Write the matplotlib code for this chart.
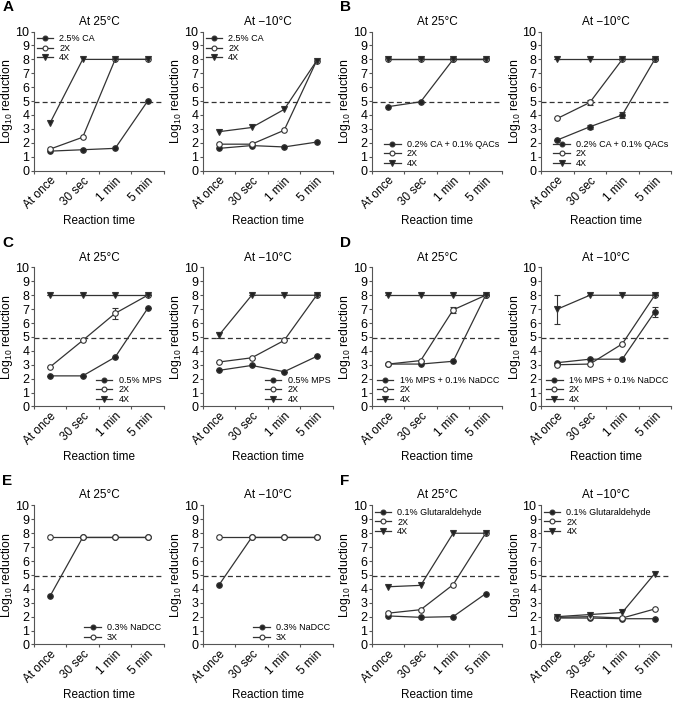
import numpy as np
import matplotlib
matplotlib.use("Agg")
import matplotlib.pyplot as plt
from matplotlib.lines import Line2D

plt.rcParams['font.family'] = ['Liberation Sans', 'DejaVu Sans']
plt.rcParams['mathtext.default'] = 'regular'

times = ['At once', '30 sec', '1 min', '5 min']
temps = ['At 25°C', 'At −10°C']
dashed_level = 4.95

# panel A: 2.5% CA
a_names = ['2.5% CA', '2X', '4X']
a_25 = [[1.4, 1.5, 1.6, 5.0], [1.55, 2.4, 8.0, 8.0], [3.45, 8.0, 8.0, 8.0]]
a_m10 = [[1.6, 1.8, 1.7, 2.05], [1.9, 1.9, 2.9, 7.9], [2.8, 3.1, 4.4, 7.9]]
# panel B: 0.2% CA + 0.1% QACs
b_names = ['0.2% CA + 0.1% QACs', '2X', '4X']
b_25 = [[4.6, 4.95, 8.0, 8.0], [8.0, 8.0, 8.0, 8.0], [8.0, 8.0, 8.0, 8.0]]
b_m10 = [[2.2, 3.15, 4.0, 8.0], [3.75, 4.9, 8.0, 8.0], [8.0, 8.0, 8.0, 8.0]]
b_m10_err = [[0, 0.15, 0.2, 0], [0, 0.2, 0, 0], [0, 0, 0, 0]]
# panel C: 0.5% MPS
c_names = ['0.5% MPS', '2X', '4X']
c_25 = [[2.2, 2.2, 3.55, 7.05], [2.85, 4.75, 6.7, 8.0], [8.0, 8.0, 8.0, 8.0]]
c_25_err = [[0, 0, 0, 0], [0, 0, 0.4, 0], [0, 0, 0, 0]]
c_m10 = [[2.6, 2.95, 2.5, 3.6], [3.2, 3.5, 4.75, 8.0], [5.15, 8.0, 8.0, 8.0]]
c_m10_err = [[0, 0, 0, 0], [0, 0, 0, 0], [0.2, 0, 0, 0]]
# panel D: 1% MPS + 0.1% NaDCC
d_names = ['1% MPS + 0.1% NaDCC', '2X', '4X']
d_25 = [[3.05, 3.05, 3.25, 8.0], [3.05, 3.3, 6.95, 8.0], [8.0, 8.0, 8.0, 8.0]]
d_25_err = [[0, 0, 0, 0], [0, 0, 0.2, 0], [0, 0, 0, 0]]
d_m10 = [[3.15, 3.4, 3.4, 6.8], [3.0, 3.05, 4.5, 8.0], [7.0, 8.0, 8.0, 8.0]]
d_m10_err = [[0, 0, 0, 0.35], [0, 0, 0, 0], [1.05, 0, 0, 0]]
# panel E: 0.3% NaDCC
e_names = ['0.3% NaDCC', '3X']
e_25 = [[3.5, 7.7, 7.7, 7.7], [7.7, 7.7, 7.7, 7.7]]
e_m10 = [[4.3, 7.7, 7.7, 7.7], [7.7, 7.7, 7.7, 7.7]]
# panel F: 0.1% Glutaraldehyde
f_names = ['0.1% Glutaraldehyde', '2X', '4X']
f_25 = [[2.05, 1.95, 2.0, 3.65], [2.25, 2.5, 4.3, 8.0], [4.15, 4.25, 8.0, 8.0]]
f_m10 = [[1.9, 1.9, 1.85, 1.85], [1.95, 2.0, 1.9, 2.55], [2.0, 2.15, 2.3, 5.1]]

panels = [
    ('A', a_names, a_25, None, a_m10, None, 'upper left'),
    ('B', b_names, b_25, None, b_m10, b_m10_err, 'lower right'),
    ('C', c_names, c_25, c_25_err, c_m10, c_m10_err, 'lower right'),
    ('D', d_names, d_25, d_25_err, d_m10, d_m10_err, 'lower right'),
    ('E', e_names, e_25, None, e_m10, None, 'lower right'),
    ('F', f_names, f_25, None, f_m10, None, 'upper left'),
]

col = '#333333'
styles = [dict(marker='o', mfc='#222222', ms=4),
          dict(marker='o', mfc='white', ms=4),
          dict(marker='v', mfc='#222222', ms=4.5)]

fig = plt.figure(figsize=(6.73, 7.02), dpi=100)
lefts = [0.0505, 0.3016, 0.5527, 0.804]
bottoms = [0.757, 0.421, 0.082]
w, h = 0.193, 0.198

x = np.arange(4) + 0.5
for i, (letter, names, d25, e25, dm10, em10, loc) in enumerate(panels):
    r, c = i // 2, i % 2
    for k, (vals, errs) in enumerate([(d25, e25), (dm10, em10)]):
        ax = fig.add_axes([lefts[2 * c + k], bottoms[r], w, h])
        ax.axhline(dashed_level, color=col, ls=(0, (4, 2.5)), lw=0.9, zorder=1)
        handles = []
        for j, name in enumerate(names):
            st = styles[j]
            yerr = errs[j] if errs is not None else None
            ax.errorbar(x, vals[j], yerr=yerr, color=col, lw=0.9,
                        marker=st['marker'], ms=st['ms'], mfc=st['mfc'],
                        mec=col, mew=0.8, capsize=2.5, elinewidth=0.8,
                        zorder=2 + j)
            handles.append(Line2D([], [], color=col, lw=0.9, marker=st['marker'],
                                  ms=st['ms'] - 0.5, mfc=st['mfc'], mec=col,
                                  mew=0.8, label=name))
        ax.set_xlim(0, 4)
        ax.set_ylim(0, 10)
        ax.set_yticks(range(0, 11))
        ax.set_xticks(range(0, 5))
        ax.set_xticklabels([])
        ax.set_xticks(x, minor=True)
        ax.set_xticklabels(times, minor=True, rotation=45, ha='right',
                           rotation_mode='anchor', fontsize=8.5)
        ax.tick_params(axis='x', which='minor', length=0, pad=3)
        ax.tick_params(axis='both', which='major', direction='out', length=2.5,
                       width=0.8, color='#555555', labelsize=9, pad=0.8)
        for s in ['top', 'right']:
            ax.spines[s].set_visible(False)
        for s in ['left', 'bottom']:
            ax.spines[s].set_color('#555555')
            ax.spines[s].set_linewidth(0.8)
        ax.set_title(temps[k], fontsize=8.5, pad=5)
        ax.set_xlabel('Reaction time', fontsize=8.5, labelpad=2.5)
        ax.set_ylabel('Log$_{10}$ reduction', fontsize=8.8, labelpad=0)
        ax.legend(handles=handles, loc=loc, frameon=False, fontsize=6.5,
                  handlelength=1.8, handletextpad=0.7, labelspacing=0.05,
                  borderaxespad=0.1, borderpad=0.2)
        if k == 0:
            fig.text(lefts[2 * c] - 0.047, bottoms[r] + h + 0.045, letter,
                     fontsize=11, fontweight='bold', va='top')

fig.savefig('out.png', dpi=100)
